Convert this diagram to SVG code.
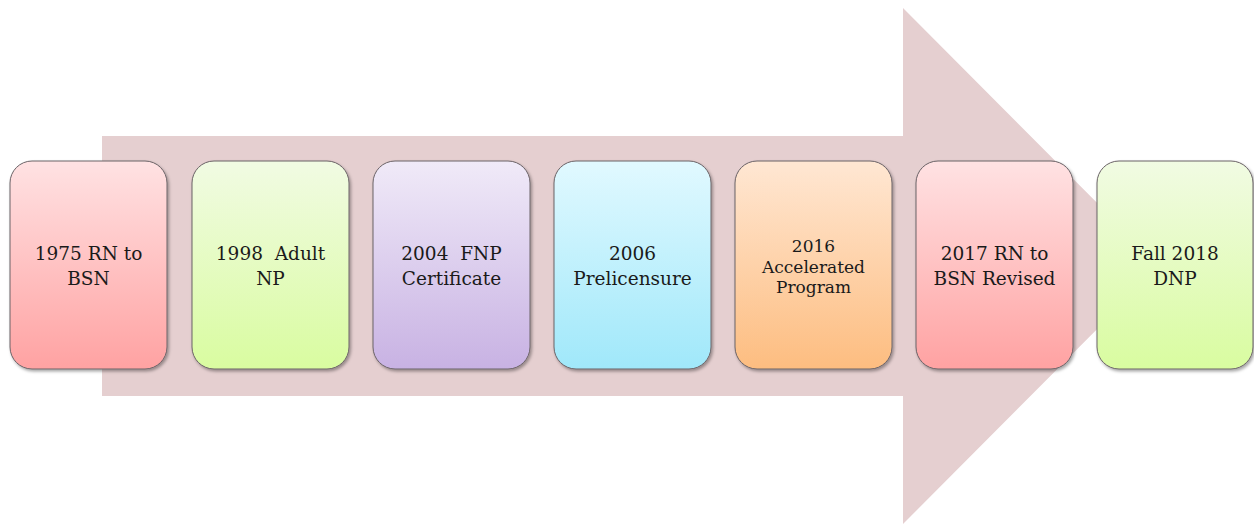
<svg xmlns="http://www.w3.org/2000/svg" width="1254" height="525" viewBox="0 0 1254 525">
<defs>
<linearGradient id="gPink" x1="0" y1="0" x2="0" y2="1"><stop offset="0" stop-color="#ffe2e3"/><stop offset="1" stop-color="#ffa2a2"/></linearGradient>
<linearGradient id="gGreen" x1="0" y1="0" x2="0" y2="1"><stop offset="0" stop-color="#f1fbe3"/><stop offset="1" stop-color="#d9fca0"/></linearGradient>
<linearGradient id="gPurple" x1="0" y1="0" x2="0" y2="1"><stop offset="0" stop-color="#f0eaf8"/><stop offset="1" stop-color="#c8b2e3"/></linearGradient>
<linearGradient id="gCyan" x1="0" y1="0" x2="0" y2="1"><stop offset="0" stop-color="#e1f9ff"/><stop offset="1" stop-color="#a0e8fa"/></linearGradient>
<linearGradient id="gOrange" x1="0" y1="0" x2="0" y2="1"><stop offset="0" stop-color="#ffe7d3"/><stop offset="1" stop-color="#fdbd80"/></linearGradient>
<filter id="sh" x="-10%" y="-10%" width="125%" height="125%"><feDropShadow dx="1.5" dy="2" stdDeviation="1.5" flood-color="#000" flood-opacity="0.35"/></filter>
</defs>
<style>
.box{stroke:#6a6266;stroke-width:1;filter:url(#sh)}
.t{font-family:"DejaVu Serif",serif;font-size:18.5px;fill:#1a1a1a;text-anchor:middle}
.s{font-size:17px}
</style>
<g id="arrow">
<polygon points="102,136 903,136 903,8 1160,266 903,524 903,396 102,396" fill="#e5cfd0"/>
</g>
<g id="connectors"></g>
<g id="n1"><rect class="box" x="10" y="161" width="157" height="208" rx="22" fill="url(#gPink)"/><text class="t" x="88.5" y="260">1975 RN to</text><text class="t" x="88.5" y="285">BSN</text></g>
<g id="n2"><rect class="box" x="192" y="161" width="157" height="208" rx="22" fill="url(#gGreen)"/><text class="t" x="270.5" y="260" xml:space="preserve">1998  Adult</text><text class="t" x="270.5" y="285">NP</text></g>
<g id="n3"><rect class="box" x="373" y="161" width="157" height="208" rx="22" fill="url(#gPurple)"/><text class="t" x="451.5" y="260" xml:space="preserve">2004  FNP</text><text class="t" x="451.5" y="285">Certificate</text></g>
<g id="n4"><rect class="box" x="554" y="161" width="157" height="208" rx="22" fill="url(#gCyan)"/><text class="t" x="632.5" y="260">2006</text><text class="t" x="632.5" y="285">Prelicensure</text></g>
<g id="n5"><rect class="box" x="735" y="161" width="157" height="208" rx="22" fill="url(#gOrange)"/><text class="t s" x="813.5" y="252">2016</text><text class="t s" x="813.5" y="273">Accelerated</text><text class="t s" x="813.5" y="293">Program</text></g>
<g id="n6"><rect class="box" x="916" y="161" width="157" height="208" rx="22" fill="url(#gPink)"/><text class="t" x="994.5" y="260">2017 RN to</text><text class="t" x="994.5" y="285">BSN Revised</text></g>
<g id="n7"><rect class="box" x="1097" y="161" width="156" height="208" rx="22" fill="url(#gGreen)"/><text class="t" x="1175" y="260">Fall 2018</text><text class="t" x="1175" y="285">DNP</text></g>
</svg>
